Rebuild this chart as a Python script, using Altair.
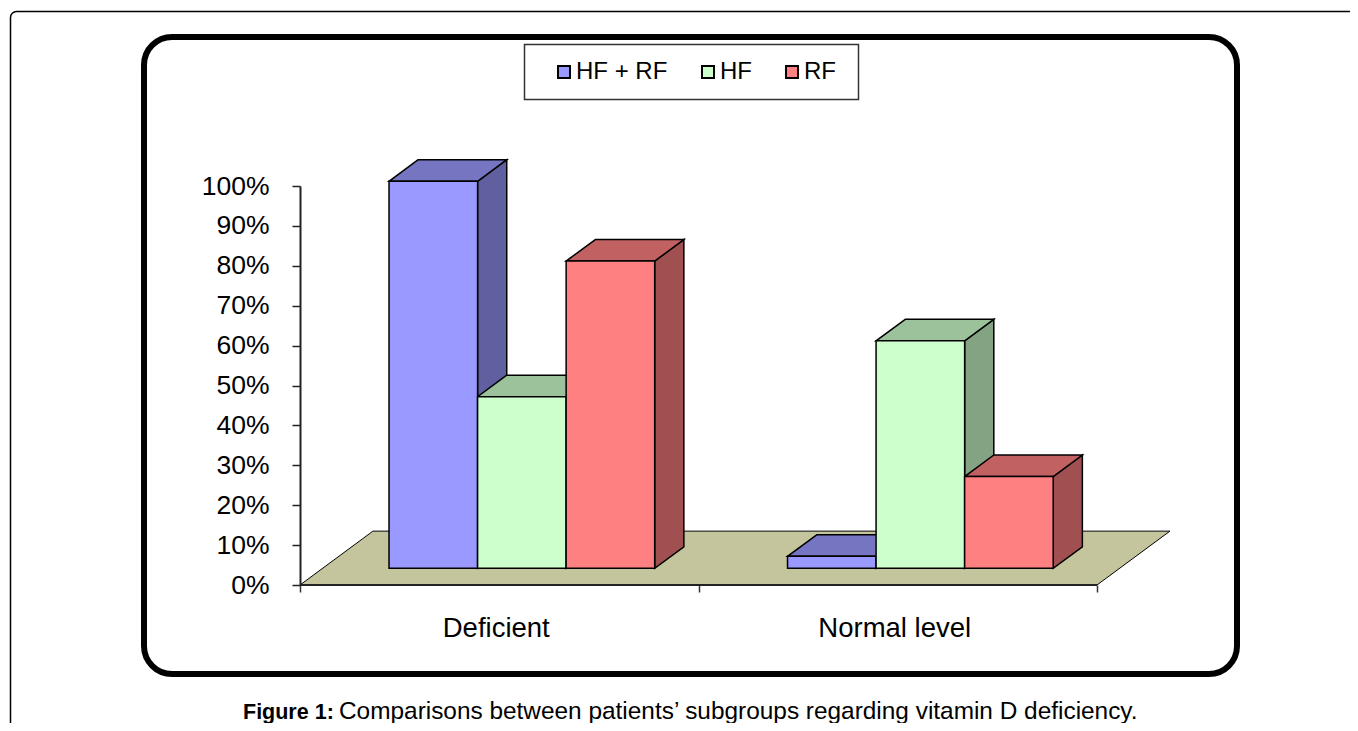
import altair as alt
import pandas as pd

# ---------------- data ----------------
CATEGORIES = ["Deficient", "Normal level"]
SERIES = ["HF + RF", "HF", "RF"]
HF_RF = [97, 3]
HF = [43, 57]
RF = [77, 23]
Y_TICKS = [0, 10, 20, 30, 40, 50, 60, 70, 80, 90, 100]
X_BOUNDS = [0, 1, 2]
CAPTION_BOLD = "Figure 1:"
CAPTION_REST = "Comparisons between patients\u2019 subgroups regarding vitamin D deficiency."

# ---------------- styles ----------------
FRONT_COLORS = ["#9999FF", "#CCFFCC", "#FF8080"]
TOP_COLORS = ["#7575C2", "#9BC29B", "#C26161"]
SIDE_COLORS = ["#6060A0", "#83A383", "#A05050"]
FLOOR_COLOR = "#C4C49D"
FONT = "Liberation Sans"

W, H = 870, 399
XMAX = 2 * W / 797.0          # x-scale domain end (axis spans 0..2)
DX = 0.183                    # floor depth in x units
DY = 13.5                     # floor depth in y units
FRONT = 0.31                  # bar front plane (fraction of depth)
BACK = 0.71                   # bar back plane
DEP = BACK - FRONT
BARW = 2.0 / 9.0              # bar width (3 bars fill 2/3 of a category)

rows = []
for ci, cat in enumerate(CATEGORIES):
    for si, (s, vals) in enumerate(zip(SERIES, [HF_RF, HF, RF])):
        rows.append(dict(category=cat, series=s, value=vals[ci], ci=ci, si=si,
                         key=f"{cat}|{s}"))
df = pd.DataFrame(rows)
one = pd.DataFrame({"n": [0]})

xs = alt.Scale(domain=[0, XMAX], nice=False, zero=False)
ys = alt.Scale(domain=[0, 100], nice=False, zero=False)

base = alt.Chart(df).transform_calculate(
    x0=f"datum.ci + 1/6 + datum.si*{BARW} + {FRONT * DX}",
).transform_calculate(
    x1=f"datum.x0 + {BARW}",
    yb=f"{FRONT * DY}",
    yt=f"datum.value + {FRONT * DY}",
)

# ---- frames ----
outer = alt.Chart(one).mark_rect(fillOpacity=0, stroke="black", strokeWidth=1.5,
                                 cornerRadius=6).encode(
    x=alt.value(10.5 - 300), x2=alt.value(1600), y=alt.value(11.5 - 186), y2=alt.value(900))
inner = alt.Chart(one).mark_rect(fillOpacity=0, stroke="black", strokeWidth=6,
                                 cornerRadius=28).encode(
    x=alt.value(144 - 300), x2=alt.value(1237 - 300),
    y=alt.value(37 - 186), y2=alt.value(674 - 186))
legend_box = alt.Chart(one).mark_rect(fill="white", stroke="#333333", strokeWidth=1.5).encode(
    x=alt.value(524.5 - 300), x2=alt.value(858.5 - 300),
    y=alt.value(44.5 - 186), y2=alt.value(99.5 - 186))

# ---- floor + axes ----
floor = alt.Chart(one).transform_calculate(ts="[0, 1]").transform_flatten(["ts"]).transform_calculate(
    fx=f"datum.ts*{DX}", fx2=f"{X_BOUNDS[-1]} + datum.ts*{DX}", fy=f"datum.ts*{DY}"
).mark_area(orient="horizontal", fill=FLOOR_COLOR, stroke="black", strokeWidth=1,
            opacity=1).encode(
    x=alt.X("fx:Q", scale=xs, stack=False,
            axis=alt.Axis(values=X_BOUNDS, labels=False, domain=False, ticks=True,
                          tickSize=7, tickColor="#333333", tickWidth=1.5, grid=False,
                          title=None)),
    x2="fx2:Q",
    y=alt.Y("fy:Q", scale=ys,
            axis=alt.Axis(values=Y_TICKS, labelExpr="datum.value + '%'", title=None,
                          grid=False, domain=True, domainColor="#222222", domainWidth=2,
                          ticks=True, tickColor="#222222", tickWidth=1.5, tickSize=8,
                          labelFont=FONT, labelFontSize=26.5, labelColor="black",
                          labelPadding=23)),
)

axis_df = pd.DataFrame({"a": [X_BOUNDS[0]], "b": [X_BOUNDS[-1]], "z": [0]})
xaxis = alt.Chart(axis_df).mark_rule(color="#222222", strokeWidth=2).encode(
    x=alt.X("a:Q", scale=xs, axis=None), x2="b:Q", y=alt.Y("z:Q", scale=ys, axis=None))

# ---- bar faces ----
sides = base.transform_calculate(ts="[0, 1]").transform_flatten(["ts"]).transform_calculate(
    sx=f"datum.x1 + datum.ts*{DEP * DX}",
    sya=f"datum.yt + datum.ts*{DEP * DY}",
    syb=f"datum.yb + datum.ts*{DEP * DY}",
).mark_area(orient="vertical", stroke="black", strokeWidth=1.5, opacity=1).encode(
    x=alt.X("sx:Q", scale=xs, axis=None),
    y=alt.Y("sya:Q", scale=ys, axis=None, stack=False),
    y2="syb:Q",
    fill=alt.Fill("series:N", scale=alt.Scale(domain=SERIES, range=SIDE_COLORS), legend=None),
    detail="key:N",
)

tops = base.transform_calculate(ts="[0, 1]").transform_flatten(["ts"]).transform_calculate(
    txa=f"datum.x0 + datum.ts*{DEP * DX}",
    txb=f"datum.x1 + datum.ts*{DEP * DX}",
    ty=f"datum.yt + datum.ts*{DEP * DY}",
).mark_area(orient="horizontal", stroke="black", strokeWidth=1.5, opacity=1).encode(
    y=alt.Y("ty:Q", scale=ys, axis=None),
    x=alt.X("txa:Q", scale=xs, axis=None, stack=False),
    x2="txb:Q",
    fill=alt.Fill("series:N", scale=alt.Scale(domain=SERIES, range=TOP_COLORS), legend=None),
    detail="key:N",
)

fronts = base.mark_rect(stroke="black", strokeWidth=1.5, opacity=1).encode(
    x=alt.X("x0:Q", scale=xs, axis=None), x2="x1:Q",
    y=alt.Y("yb:Q", scale=ys, axis=None), y2="yt:Q",
    fill=alt.Fill("series:N", scale=alt.Scale(domain=SERIES, range=FRONT_COLORS),
                  legend=alt.Legend(orient="none", legendX=552 - 300, legendY=60 - 186,
                                    direction="horizontal", title=None,
                                    symbolType="square", symbolSize=144,
                                    symbolStrokeColor="black", symbolStrokeWidth=2,
                                    symbolOpacity=1,
                                    labelFont=FONT, labelFontSize=24, labelColor="black",
                                    columnPadding=28, labelOffset=0)),
)

# ---- texts ----
cat_df = pd.DataFrame({"category": CATEGORIES, "ci": list(range(len(CATEGORIES)))})
cat_labels = alt.Chart(cat_df).transform_calculate(cx="datum.ci + 0.5").mark_text(
    font=FONT, fontSize=27.5, color="black", baseline="alphabetic", align="center",
    dx=-3).encode(
    x=alt.X("cx:Q", scale=xs, axis=None), y=alt.value(637 - 186), text="category:N")

cap1 = alt.Chart(one).mark_text(text=CAPTION_BOLD, font=FONT, fontSize=21.5, fontWeight="bold",
                                color="black", align="left", baseline="alphabetic").encode(
    x=alt.value(243 - 300), y=alt.value(719 - 186))
cap2 = alt.Chart(one).mark_text(text=CAPTION_REST, font=FONT, fontSize=24.4,
                                color="black", align="left", baseline="alphabetic").encode(
    x=alt.value(339 - 300), y=alt.value(719 - 186))

chart = alt.layer(
    outer, inner, legend_box, floor, xaxis, sides, tops, fronts, cat_labels, cap1, cap2
).resolve_scale(fill="independent").resolve_axis(x="independent", y="independent").properties(
    width=W, height=H,
    autosize=alt.AutoSizeParams(type="none"),
    padding={"left": 292, "top": 178, "right": 180, "bottom": 138},
    background="white",
).configure_view(strokeWidth=0).configure_legend(padding=0)

chart.save("out.html", embed_options={"renderer": "svg", "actions": False})
